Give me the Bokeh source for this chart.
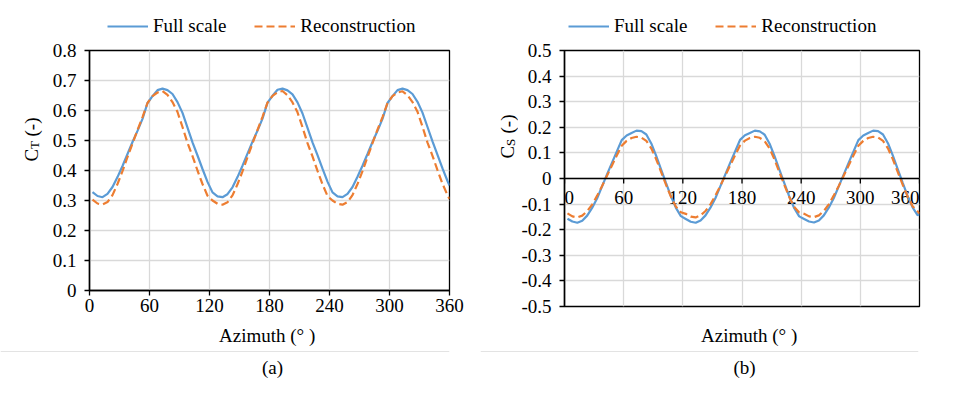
import math
from bokeh.plotting import figure
from bokeh.models import (Range1d, FixedTicker, Label, Legend, LegendItem,
                          Span, ColumnDataSource, GridBox)
from bokeh.embed import file_html
from bokeh.resources import INLINE

# ---------------- data ----------------
azimuth = [3, 8, 13, 18, 23, 28, 33, 38, 43, 48, 53, 58, 63, 68, 73, 78, 83, 88,
           93, 98, 103, 108, 113, 118, 123, 128, 133, 138, 143, 148, 153, 158,
           163, 168, 173, 178, 183, 188, 193, 198, 203, 208, 213, 218, 223, 228,
           233, 238, 243, 248, 253, 258, 263, 268, 273, 278, 283, 288, 293, 298,
           303, 308, 313, 318, 323, 328, 333, 338, 343, 348, 353, 358, 360]

ct_full = [0.328, 0.315, 0.311, 0.322, 0.345, 0.378, 0.415, 0.455, 0.495, 0.532, 0.572, 0.625,
           0.648, 0.668, 0.673, 0.668, 0.655, 0.628, 0.592, 0.543, 0.494, 0.450, 0.405, 0.362,
           0.327, 0.314, 0.311, 0.321, 0.344, 0.378, 0.416, 0.456, 0.496, 0.533, 0.573, 0.626,
           0.649, 0.669, 0.673, 0.667, 0.654, 0.627, 0.590, 0.542, 0.494, 0.451, 0.406, 0.363,
           0.327, 0.314, 0.311, 0.322, 0.345, 0.379, 0.416, 0.455, 0.495, 0.532, 0.572, 0.625,
           0.648, 0.668, 0.673, 0.668, 0.655, 0.629, 0.593, 0.545, 0.497, 0.452, 0.407, 0.365,
           0.350]

ct_recon = [0.303, 0.290, 0.287, 0.295, 0.318, 0.355, 0.398, 0.445, 0.490, 0.535, 0.578, 0.625,
            0.648, 0.660, 0.665, 0.652, 0.628, 0.595, 0.545, 0.492, 0.448, 0.400, 0.355, 0.316,
            0.300, 0.289, 0.286, 0.294, 0.317, 0.354, 0.397, 0.444, 0.490, 0.535, 0.579, 0.626,
            0.649, 0.661, 0.665, 0.651, 0.627, 0.594, 0.544, 0.491, 0.447, 0.399, 0.354, 0.315,
            0.300, 0.289, 0.286, 0.295, 0.318, 0.355, 0.398, 0.445, 0.491, 0.536, 0.578, 0.625,
            0.648, 0.660, 0.664, 0.651, 0.628, 0.596, 0.546, 0.493, 0.449, 0.401, 0.356, 0.318,
            0.305]

cs_full = [-0.157, -0.168, -0.173, -0.165, -0.145, -0.115, -0.078, -0.032, 0.015, 0.060, 0.105, 0.150,
           0.168, 0.178, 0.187, 0.185, 0.172, 0.137, 0.088, 0.035, -0.018, -0.070, -0.115, -0.147,
           -0.158, -0.169, -0.173, -0.164, -0.144, -0.114, -0.077, -0.031, 0.015, 0.061, 0.106, 0.151,
           0.169, 0.178, 0.187, 0.184, 0.171, 0.136, 0.087, 0.034, -0.019, -0.071, -0.116, -0.148,
           -0.158, -0.168, -0.172, -0.164, -0.144, -0.114, -0.077, -0.032, 0.014, 0.060, 0.105, 0.150,
           0.168, 0.178, 0.187, 0.185, 0.172, 0.138, 0.089, 0.036, -0.017, -0.069, -0.113, -0.143,
           -0.140]

cs_recon = [-0.136, -0.148, -0.152, -0.145, -0.128, -0.102, -0.068, -0.030, 0.010, 0.050, 0.090, 0.128,
            0.147, 0.158, 0.163, 0.160, 0.147, 0.118, 0.075, 0.025, -0.025, -0.072, -0.110, -0.132,
            -0.138, -0.149, -0.152, -0.144, -0.127, -0.101, -0.067, -0.029, 0.011, 0.051, 0.091, 0.129,
            0.148, 0.158, 0.163, 0.159, 0.146, 0.117, 0.074, 0.024, -0.026, -0.073, -0.111, -0.133,
            -0.138, -0.148, -0.151, -0.144, -0.127, -0.101, -0.067, -0.030, 0.010, 0.050, 0.090, 0.128,
            0.147, 0.158, 0.163, 0.160, 0.147, 0.118, 0.075, 0.025, -0.025, -0.071, -0.108, -0.128,
            -0.137]

x_ticks = [0, 60, 120, 180, 240, 300, 360]
x_tick_labels = ["0", "60", "120", "180", "240", "300", "360"]
ct_ticks = [0.0, 0.1, 0.2, 0.3, 0.4, 0.5, 0.6, 0.7, 0.8]
ct_tick_labels = ["0", "0.1", "0.2", "0.3", "0.4", "0.5", "0.6", "0.7", "0.8"]
cs_ticks = [-0.5, -0.4, -0.3, -0.2, -0.1, 0.0, 0.1, 0.2, 0.3, 0.4, 0.5]
cs_tick_labels = ["-0.5", "-0.4", "-0.3", "-0.2", "-0.1", "0", "0.1", "0.2", "0.3", "0.4", "0.5"]

series_names = ["Full scale", "Reconstruction"]
x_title = "Azimuth (°  )"
panel_captions = ["(a)", "(b)"]

# ---------------- style ----------------
FONT = "Liberation Serif"
FS = "19px"
BLUE = "#5B9BD5"
ORANGE = "#ED7D31"
GRID = "#d9d9d9"
SEP = "#e3e3e3"
LEG_H = 38
MAIN_H = 284
CAP_H = 67
LW = 2.2
DASH = "8 4"


def text_fig(width, height):
    f = figure(width=width, height=height, output_backend="svg", toolbar_location=None,
               x_axis_type=None, y_axis_type=None, min_border=0,
               x_range=Range1d(-2, -1), y_range=Range1d(-2, -1))
    f.outline_line_color = None
    f.grid.visible = False
    f.background_fill_color = "white"
    f.border_fill_color = "white"
    return f


def base_fig(width, ymin, ymax, yticks, ylabels, mbl, mbr, fw, fh):
    p = figure(width=width, height=MAIN_H, output_backend="svg", toolbar_location=None,
               frame_width=fw, frame_height=fh,
               x_range=Range1d(0, 360), y_range=Range1d(ymin, ymax),
               min_border_left=mbl, min_border_right=mbr, min_border_top=12,
               min_border_bottom=MAIN_H - 12 - fh)
    p.background_fill_color = "white"
    p.border_fill_color = "white"
    p.outline_line_color = "black"
    p.outline_line_width = 1.3
    p.xaxis.ticker = FixedTicker(ticks=x_ticks)
    p.yaxis.ticker = FixedTicker(ticks=yticks)
    p.yaxis.major_label_overrides = dict(zip(yticks, ylabels))
    p.xaxis.major_label_overrides = dict(zip(x_ticks, x_tick_labels))
    for ax in (p.xaxis[0], p.yaxis[0]):
        ax.axis_line_color = "black"
        ax.axis_line_width = 1.5
        ax.major_tick_line_color = "black"
        ax.major_tick_line_width = 1.3
        ax.major_tick_out = 5
        ax.major_tick_in = 0
        ax.minor_tick_line_color = None
        ax.major_label_text_font = FONT
        ax.major_label_text_font_size = FS
        ax.major_label_text_color = "black"
    p.yaxis.major_label_standoff = 8
    p.xaxis.major_label_standoff = 3
    p.xgrid.grid_line_color = GRID
    p.ygrid.grid_line_color = GRID
    p.xgrid.grid_line_width = 1.3
    p.ygrid.grid_line_width = 1.3
    return p


def legend_fig(width, lx, yfull, yrec):
    # the legend renderers hold the real series; the view range keeps them out of sight
    f = text_fig(width, LEG_H)
    r1 = f.line(azimuth, yfull, line_color=BLUE, line_width=LW)
    r2 = f.line(azimuth, yrec, line_color=ORANGE, line_width=LW, line_dash=DASH)
    leg = Legend(items=[LegendItem(label=series_names[0], renderers=[r1]),
                        LegendItem(label=series_names[1], renderers=[r2])],
                 orientation="horizontal", location=(lx, 1))
    leg.label_text_font = FONT
    leg.label_text_font_size = FS
    leg.label_text_color = "black"
    leg.glyph_width = 41
    leg.glyph_height = 20
    leg.label_standoff = 5
    leg.spacing = 28
    leg.padding = 0
    leg.margin = 0
    leg.border_line_color = None
    leg.background_fill_alpha = 0
    f.add_layout(leg)
    return f


def ylabel_fig(width, cx, ybottom, sub):
    f = text_fig(width, MAIN_H)
    common = dict(x_units="screen", y_units="screen", angle=math.pi / 2,
                  text_align="left", text_baseline="middle", text_font=FONT,
                  text_color="black")
    f.add_layout(Label(x=cx, y=ybottom, text="C", text_font_size=FS, **common))
    f.add_layout(Label(x=cx + 3, y=ybottom + 12.5, text=sub, text_font_size="13px", **common))
    f.add_layout(Label(x=cx, y=ybottom + 25, text="(-)", text_font_size=FS, **common))
    return f


def caption_fig(width, tx, cx, text):
    f = text_fig(width, CAP_H)
    common = dict(x_units="screen", y_units="screen", text_align="center",
                  text_baseline="middle", text_font=FONT, text_font_size=FS,
                  text_color="black")
    f.add_layout(Label(x=tx, y=CAP_H - 13, text=x_title, **common))
    f.add_layout(Span(location=CAP_H - 29, location_units="screen", dimension="width",
                      line_color=SEP, line_width=1))
    f.add_layout(Label(x=cx, y=CAP_H - 45, text=text, **common))
    return f


# ---------------- panel (a) ----------------
p1 = base_fig(432, 0, 0.8, ct_ticks, ct_tick_labels, 41, 31, 360, 240)
p1.line(azimuth, ct_full, line_color=BLUE, line_width=LW)
p1.line(azimuth, ct_recon, line_color=ORANGE, line_width=LW, line_dash=DASH)
yl1 = ylabel_fig(48, 31, 129, "T")
lg1 = legend_fig(480, 107, ct_full, ct_recon)
cap1 = caption_fig(480, 269, 272, panel_captions[0])

# ---------------- panel (b) ----------------
p2 = base_fig(434, -0.5, 0.5, cs_ticks, cs_tick_labels, 45, 34, 355, 256)
p2.xaxis.visible = False
p2.add_layout(Span(location=0, dimension="width", line_color="black", line_width=1.5))
tick_len = 5 * 1.0 / 256
p2.segment(x0=x_ticks, y0=[0] * len(x_ticks), x1=x_ticks, y1=[-tick_len] * len(x_ticks),
           line_color="black", line_width=1.3)
aligns = ["left"] + ["center"] * (len(x_ticks) - 2) + ["right"]
src = ColumnDataSource(dict(x=x_ticks, y=[0] * len(x_ticks), t=x_tick_labels, a=aligns))
p2.text(x="x", y="y", text="t", source=src, y_offset=12, text_align="a",
        text_baseline="top", text_font=FONT, text_font_size=FS, text_color="black")
p2.line(azimuth, cs_full, line_color=BLUE, line_width=LW)
p2.line(azimuth, cs_recon, line_color=ORANGE, line_width=LW, line_dash=DASH)
yl2 = ylabel_fig(38, 27, 132, "S")
lg2 = legend_fig(472, 88, cs_full, cs_recon)
cap2 = caption_fig(472, 271, 264, panel_captions[1])

layout = GridBox(children=[(lg1, 0, 0, 1, 2), (lg2, 0, 2, 1, 2),
                           (yl1, 1, 0), (p1, 1, 1), (yl2, 1, 2), (p2, 1, 3),
                           (cap1, 2, 0, 1, 2), (cap2, 2, 2, 1, 2)], spacing=0)
open("out.html", "w").write(file_html(layout, INLINE))
